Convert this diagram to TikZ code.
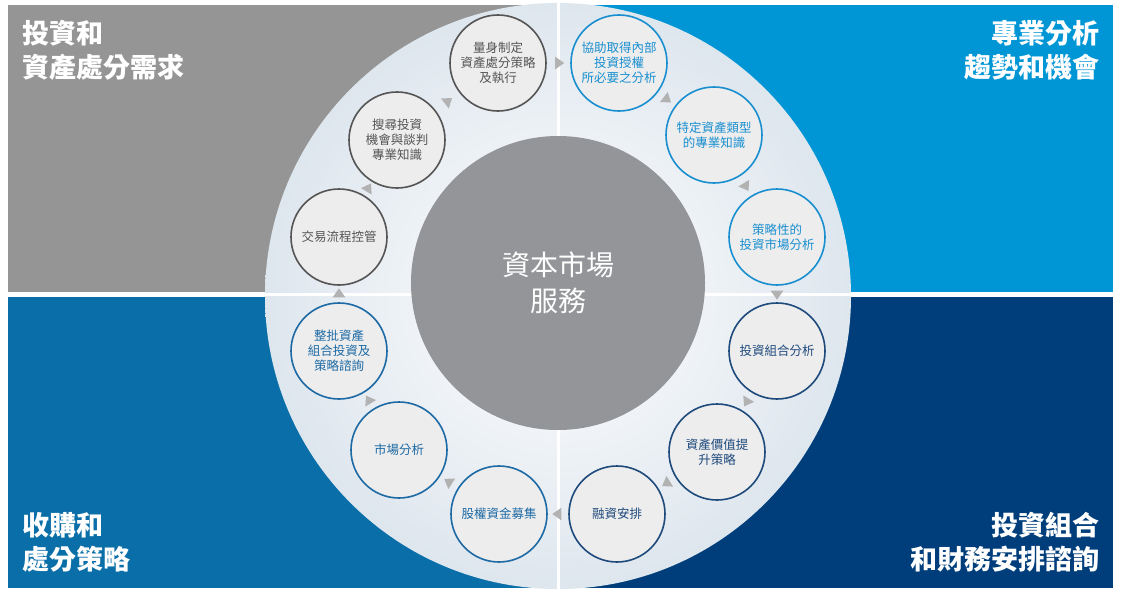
\documentclass[tikz,border=0pt]{standalone}
\usepackage{fontspec}
\setmainfont{Noto Sans CJK TC}
\usetikzlibrary{shapes.geometric}
\definecolor{qgray}{HTML}{959595}
\definecolor{qblue}{HTML}{0096D6}
\definecolor{qmid}{HTML}{0A6EA8}
\definecolor{qnavy}{HTML}{003E7B}
\definecolor{cgray}{HTML}{555555}
\definecolor{cblue}{HTML}{1A8FD0}
\definecolor{cnavy}{HTML}{1F4A7C}
\definecolor{cmid}{HTML}{1D6AA5}
\definecolor{inner}{HTML}{939598}
\tikzset{
 sc/.style={circle,minimum size=96pt,line width=1.6pt,fill=gray!14,align=center,font=\fontsize{12.5}{15}\selectfont,inner sep=0pt},
 tri/.style={isosceles triangle,isosceles triangle apex angle=70,fill=gray!60,minimum size=9pt,inner sep=0pt,sloped,allow upside down},
 corner/.style={text=white,font=\fontsize{27}{34}\selectfont\bfseries,inner sep=0pt}
}
\begin{document}
\begin{tikzpicture}[x=1pt,y=-1pt]
\useasboundingbox (0,0) rectangle (1121,594);
\fill[white] (0,0) rectangle (1121,594);
\fill[qgray] (8,5) rectangle (555,292);
\fill[qblue] (558,5) rectangle (1113,292);
\fill[qmid] (8,297) rectangle (555,588);
\fill[qnavy] (558,297) rectangle (1113,588);
\shade[inner color=white,outer color={rgb,255:red,222;green,230;blue,238}] (558,296) circle (293);
\draw[white,line width=3pt] (558,3) -- (558,590) (262,294.5) -- (855,294.5);
\node[circle,fill=inner,minimum size=294pt,text=white,align=center,font=\fontsize{28}{36}\selectfont] (core) at (558,283) {資本市場\\服務};
\node[corner,anchor=north west,align=left] (tl) at (22,20) {投資和\\資產處分需求};
\node[corner,anchor=north east,align=right] (tr) at (1100,20) {專業分析\\趨勢和機會};
\node[corner,anchor=south west,align=left] (bl) at (22,572) {收購和\\處分策略};
\node[corner,anchor=south east,align=right] (br) at (1100,572) {投資組合\\和財務安排諮詢};
\node[sc,draw=cgray,text=cgray] (c1) at (498,63) {量身制定\\資產處分策略\\及執行};
\node[sc,draw=cblue,text=cblue] (c2) at (619,63) {協助取得內部\\投資授權\\所必要之分析};
\node[sc,draw=cblue,text=cblue] (c3) at (714,135) {特定資產類型\\的專業知識};
\node[sc,draw=cblue,text=cblue] (c4) at (777,237) {策略性的\\投資市場分析};
\node[sc,draw=cnavy,text=cnavy] (c5) at (777,351) {投資組合分析};
\node[sc,draw=cnavy,text=cnavy] (c6) at (717,452) {資產價值提\\升策略};
\node[sc,draw=cnavy,text=cnavy] (c7) at (617,514) {融資安排};
\node[sc,draw=cmid,text=cmid] (c8) at (499,514) {股權資金募集};
\node[sc,draw=cmid,text=cmid] (c9) at (399,450) {市場分析};
\node[sc,draw=cmid,text=cmid] (c10) at (339,351) {整批資產\\組合投資及\\策略諮詢};
\node[sc,draw=cgray,text=cgray] (c11) at (339,237) {交易流程控管};
\node[sc,draw=cgray,text=cgray] (c12) at (397,140) {搜尋投資\\機會與談判\\專業知識};
\foreach \a/\b in {c1/c2,c2/c3,c3/c4,c4/c5,c5/c6,c6/c7,c7/c8,c8/c9,c9/c10,c10/c11,c11/c12,c12/c1}
  \path (\a) -- (\b) node[tri,midway] {};
\end{tikzpicture}
\end{document}
